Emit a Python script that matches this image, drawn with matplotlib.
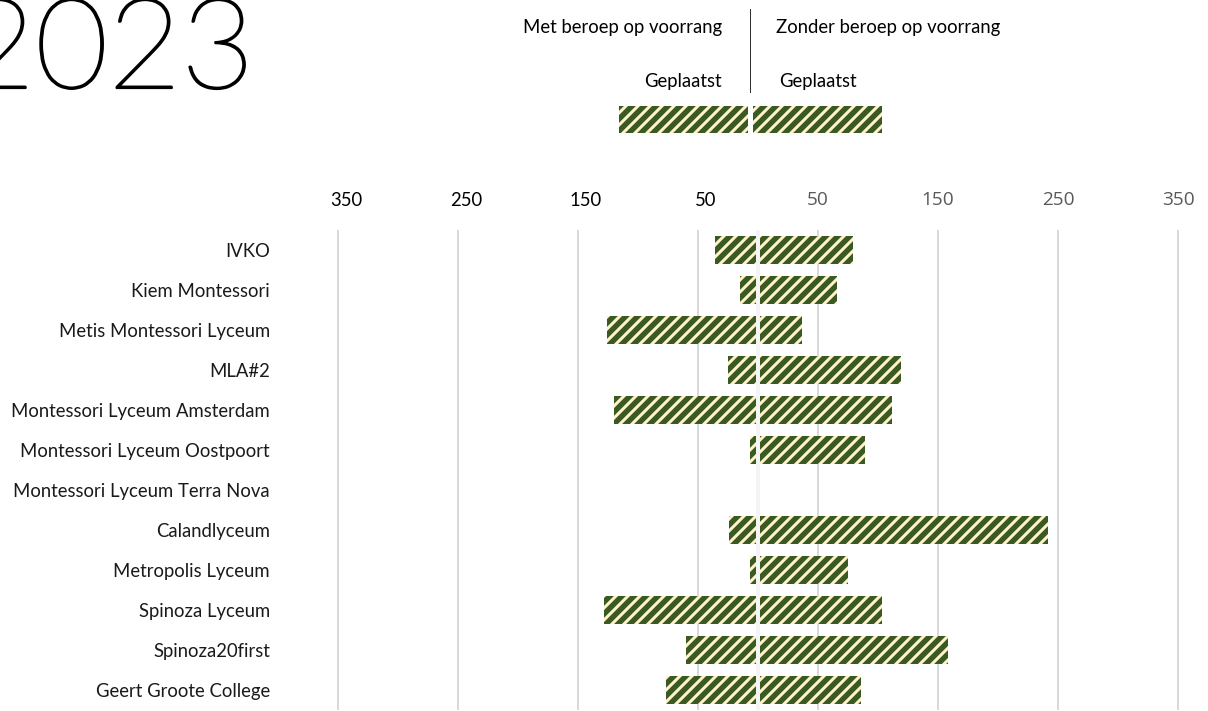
import numpy as np
import matplotlib.pyplot as plt
import matplotlib.patheffects as pe
from matplotlib.patches import Rectangle
from matplotlib.transforms import ScaledTranslation

# ---------------------------------------------------------------------
# Data
# ---------------------------------------------------------------------
schools = [
    "IVKO",
    "Kiem Montessori",
    "Metis Montessori Lyceum",
    "MLA#2",
    "Montessori Lyceum Amsterdam",
    "Montessori Lyceum Oostpoort",
    "Montessori Lyceum Terra Nova",
    "Calandlyceum",
    "Metropolis Lyceum",
    "Spinoza Lyceum",
    "Spinoza20first",
    "Geert Groote College",
]
met_voorrang = [36, 15, 126, 25, 120, 7, 0, 24, 7, 128, 60, 77]
zonder_voorrang = [79, 66, 37, 119, 112, 89, 0, 242, 75, 103, 158, 86]

tick_values = [-350, -250, -150, -50, 50, 150, 250, 350]
tick_labels = [str(abs(v)) for v in tick_values]

GREEN = "#3a5a22"
CREAM = "#fff2cc"
HATCH = "//"
W, H = 1208, 711

plt.rcParams["font.family"] = ["Lato", "DejaVu Sans"]
plt.rcParams["hatch.linewidth"] = 3.0

fig = plt.figure(figsize=(W / 72, H / 72), dpi=72)

def fx(px):
    return px / W

def fy(py):
    return 1 - py / H

# ---------------------------------------------------------------------
# Main chart
# ---------------------------------------------------------------------
ax = fig.add_axes([fx(296), fy(710), fx(1208 - 296), (710 - 230) / H])
y = np.arange(len(schools))
bar_kw = dict(height=0.68, color=GREEN, edgecolor=CREAM, linewidth=0.0,
              hatch=HATCH, zorder=2)
ax.barh(y, [-v for v in met_voorrang], **bar_kw)
ax.barh(y, zonder_voorrang, **bar_kw)
ax.axvline(0, color="#f4f4f4", lw=4, zorder=3)

ax.set_xlim(-385, 375)
ax.set_ylim(len(schools) - 0.5, -0.5)
ax.set_yticks(y)
ax.set_yticklabels(schools, fontsize=18.5, color="#1a1a1a")
ax.xaxis.tick_top()
ax.set_xticks(tick_values)
ax.set_xticklabels(tick_labels)
ax.tick_params(axis="x", length=0, pad=21)
ax.tick_params(axis="y", length=0, pad=26)

shift = ScaledTranslation(8 / 72, 0, fig.dpi_scale_trans)
for tick, v in zip(ax.xaxis.get_major_ticks(), tick_values):
    lbl = tick.label2
    if v < 0:
        lbl.set_color("#000000")
        lbl.set_fontsize(18.5)
        lbl.set_transform(lbl.get_transform() + shift)
    else:
        lbl.set_color("#595959")
        lbl.set_fontsize(19)
        lbl.set_family(["Open Sans", "DejaVu Sans"])

ax.grid(axis="x", color="#d9d9d9", lw=2, zorder=0)
ax.set_axisbelow(True)
for s in ax.spines.values():
    s.set_visible(False)

# ---------------------------------------------------------------------
# Title and legend block
# ---------------------------------------------------------------------
fig.text(fx(-38), fy(88), "2023", fontsize=126, fontweight=100,
         family=["Lato", "DejaVu Sans"],
         va="baseline", ha="left", color="#000000",
         path_effects=[pe.withStroke(linewidth=2.2, foreground="#000000")])

fig.text(fx(722), fy(27), "Met beroep op voorrang", fontsize=18.5,
         ha="right", va="center")
fig.text(fx(776), fy(27), "Zonder beroep op voorrang", fontsize=18.5,
         ha="left", va="center")
fig.text(fx(722), fy(82), "Geplaatst", fontsize=18.5, ha="right", va="center")
fig.text(fx(779), fy(82), "Geplaatst", fontsize=18.5, ha="left", va="center")
fig.add_artist(plt.Line2D([fx(750), fx(750)], [fy(9), fy(92)],
                          color="#333333", lw=1))
for x0, x1 in [(619, 748), (753, 882)]:
    fig.add_artist(Rectangle((fx(x0), fy(133)), fx(x1 - x0), (133 - 106) / H,
                             transform=fig.transFigure, facecolor=GREEN,
                             edgecolor=CREAM, linewidth=0, hatch=HATCH))

fig.savefig("out.png", dpi=72)
